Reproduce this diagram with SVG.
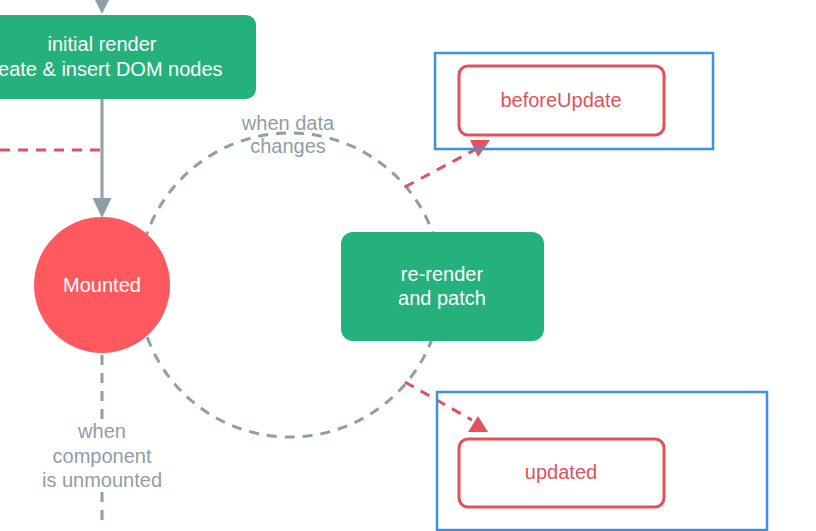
<svg xmlns="http://www.w3.org/2000/svg" width="816" height="531" viewBox="0 0 816 531">
<style>
text{font-family:"Liberation Sans",Arial,sans-serif;font-size:20px;text-anchor:middle}
.w{fill:#ffffff}
.g{fill:#8d9ea8}
.r{fill:#e0525c}
.gray{stroke:#909fa7;stroke-width:3;fill:none}
.dash{stroke-dasharray:10 8}
.red{stroke:#e0525c;stroke-width:3;fill:none;stroke-dasharray:10 8}
.green{fill:#25b17b}
.hook{fill:#ffffff;stroke:#e0525c;stroke-width:3}
.blue{fill:none;stroke:#3b93e3;stroke-width:2.5}
</style>
<rect width="816" height="531" fill="#ffffff"/>
<g id="connectors">
  <path class="gray" d="M102,-10 V4"/>
  <polygon points="92,-6 112,-6 102,14" fill="#909fa7"/>
  <path class="gray" d="M102,99 V200"/>
  <polygon points="92.5,198 111.5,198 102,218" fill="#909fa7"/>
  <path class="red" d="M0,150 H102"/>
  <circle class="gray dash" cx="290" cy="285" r="152"/>
  <path class="gray dash" d="M102,355 V420"/>
  <path class="gray dash" d="M102,492 V520"/>
  <path class="red" d="M405,187 L478,148"/>
  <polygon points="470,140 490,140 478,157" fill="#e0525c"/>
  <path class="red" d="M405,382 L472,420"/>
  <polygon points="478,416 488,432 468,432" fill="#e0525c"/>
</g>
<g id="initial-render">
  <rect class="green" x="-52" y="15" width="308" height="84" rx="10"/>
  <text class="w" x="102" y="51">initial render</text>
  <text class="w" x="102" y="76">create &amp; insert DOM nodes</text>
</g>
<g id="mounted">
  <circle cx="102" cy="285" r="68" fill="#fe595e"/>
  <text class="w" x="102" y="292">Mounted</text>
</g>
<g id="data-label">
  <text class="g" x="288" y="130">when data</text>
  <text class="g" x="288" y="153">changes</text>
</g>
<g id="re-render">
  <rect class="green" x="341" y="232" width="203" height="109" rx="12"/>
  <text class="w" x="442" y="281">re-render</text>
  <text class="w" x="442" y="305">and patch</text>
</g>
<g id="beforeUpdate">
  <rect class="blue" x="435" y="53" width="278" height="96"/>
  <rect class="hook" x="459" y="66" width="205" height="69" rx="9"/>
  <text class="r" x="561" y="107">beforeUpdate</text>
</g>
<g id="updated">
  <rect class="blue" x="437" y="392" width="330" height="138"/>
  <rect class="hook" x="459" y="439" width="205" height="68" rx="9"/>
  <text class="r" x="561" y="479">updated</text>
</g>
<g id="unmount-label">
  <text class="g" x="102" y="438">when</text>
  <text class="g" x="102" y="463">component</text>
  <text class="g" x="102" y="487">is unmounted</text>
</g>
</svg>
